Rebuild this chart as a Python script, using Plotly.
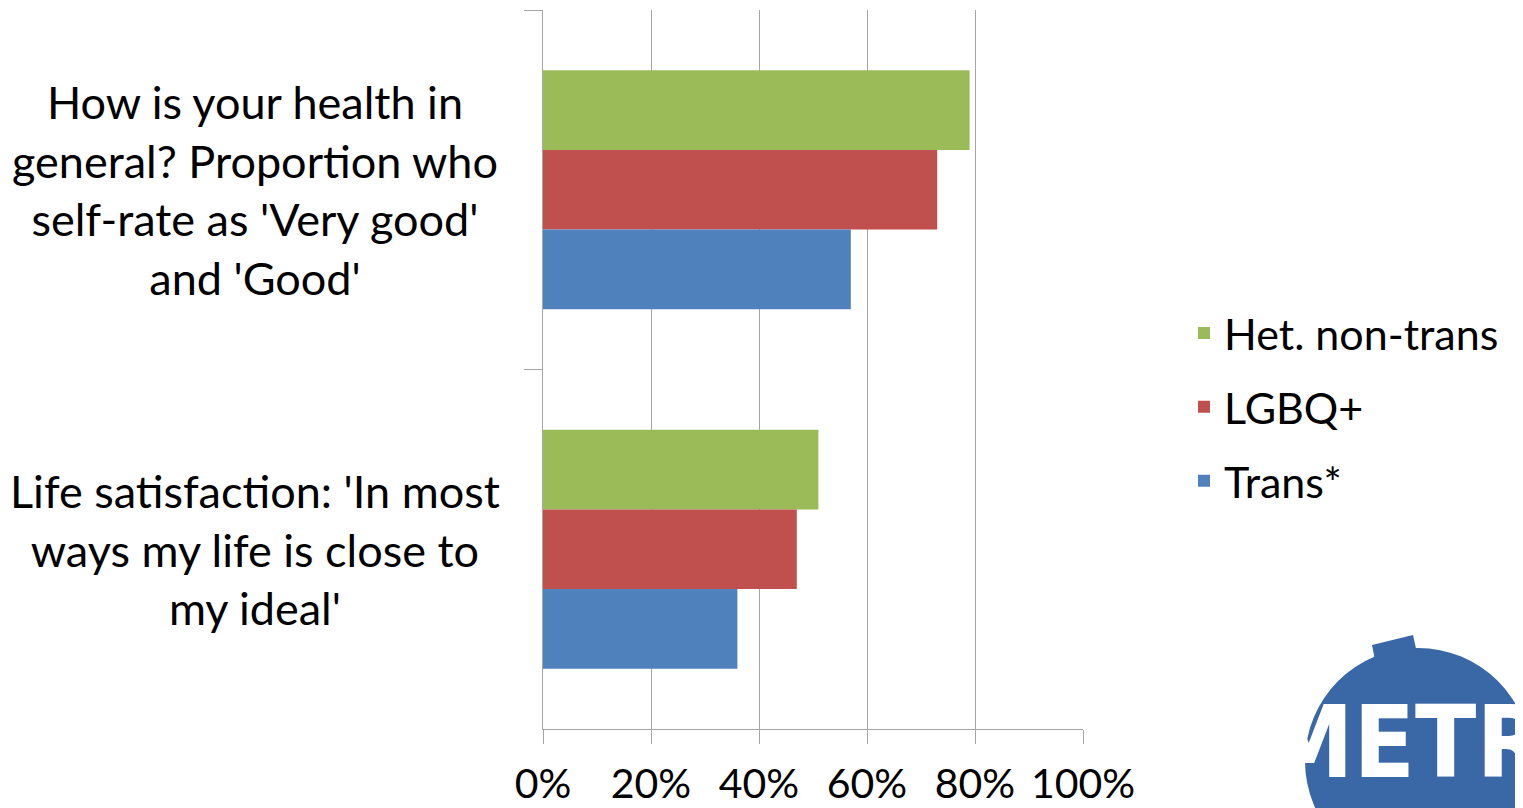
import plotly.graph_objects as go

categories = [
    "How is your health in<br>general? Proportion who<br>self-rate as 'Very good'<br>and 'Good'",
    "Life satisfaction: 'In most<br>ways my life is close to<br>my ideal'",
]
series_names = ["Het. non-trans", "LGBQ+", "Trans*"]
het_non_trans = [79, 51]
lgbq_plus = [73, 47]
trans_star = [57, 36]
series_values = [het_non_trans, lgbq_plus, trans_star]
series_colors = ["#9BBB59", "#C0504D", "#4F81BD"]
x_tickvals = [0, 20, 40, 60, 80, 100]
x_ticktext = ["0%", "20%", "40%", "60%", "80%", "100%"]

# page body has an 8px margin; figure coordinates = page coordinates - 8
OFF = 8
W, H = 1523 - OFF, 808 - OFF
L, R, T, B = 543 - OFF, 1083 - OFF, 10 - OFF, 729 - OFF


def px(x):  # page x -> paper x
    return (x - OFF - L) / (R - L)


def py(y):  # page y -> paper y
    return (B - (y - OFF)) / (B - T)


FONT = "Lato, 'Open Sans', sans-serif"
GRID = "#A6A6A6"

fig = go.Figure()
for name, vals, col in zip(series_names, series_values, series_colors):
    fig.add_trace(go.Bar(
        y=categories, x=vals, name=name, orientation="h",
        marker=dict(color=col, line=dict(width=0)),
        legendgroup=name,
    ))

annotations = []
for c in categories:
    annotations.append(dict(
        xref="paper", yref="y", x=px(255), y=c, text=c, showarrow=False,
        xanchor="center", yanchor="middle", align="center",
        font=dict(family=FONT, size=45, color="black"),
    ))

# logo (decorative)
annotations.append(dict(
    xref="paper", yref="paper", x=px(1262), y=py(682), text="<b>METRO</b>",
    showarrow=False, xanchor="left", yanchor="top",
    font=dict(family="'DejaVu Sans Condensed', 'Liberation Sans Narrow', sans-serif", size=100, color="white"),
))

shapes = [
    dict(type="circle", xref="paper", yref="paper",
         x0=px(1305), x1=px(1531), y0=py(874), y1=py(648),
         fillcolor="#3A67A5", line=dict(width=0), layer="above"),
    dict(type="path", xref="paper", yref="paper",
         path=f"M {px(1372)} {py(645)} L {px(1413)} {py(635)} L {px(1417)} {py(653)} L {px(1375)} {py(660)} Z",
         fillcolor="#3A67A5", line=dict(width=0), layer="above"),
]

fig.update_layout(
    width=W, height=H,
    margin=dict(l=L, r=W - R, t=T, b=H - B, pad=0, autoexpand=False),
    plot_bgcolor="white", paper_bgcolor="white",
    barmode="group", bargap=0.335, bargroupgap=0,
    font=dict(family=FONT, size=44, color="black"),
    showlegend=True,
    legend=dict(
        x=px(1184), y=py(407), xanchor="left", yanchor="middle",
        font=dict(family=FONT, size=43, color="black"),
        tracegroupgap=15, traceorder="grouped", bgcolor="rgba(0,0,0,0)",
    ),
    xaxis=dict(
        range=[0, 100], tickvals=x_tickvals, ticktext=x_ticktext,
        showgrid=True, gridcolor=GRID, gridwidth=1,
        showline=True, linecolor=GRID, linewidth=1,
        ticks="outside", ticklen=14, tickcolor=GRID, tickwidth=1,
        zeroline=False, ticklabelstandoff=5, automargin=False,
        tickfont=dict(family=FONT, size=41, color="black"),
        fixedrange=True,
    ),
    yaxis=dict(
        autorange="reversed", type="category",
        showticklabels=False, showgrid=False,
        showline=True, linecolor=GRID, linewidth=1,
        ticks="outside", tickson="boundaries", ticklen=18, tickcolor=GRID, tickwidth=1,
        zeroline=False, fixedrange=True, automargin=False,
    ),
    annotations=annotations,
    shapes=shapes,
)

fig.write_html("out.html")
